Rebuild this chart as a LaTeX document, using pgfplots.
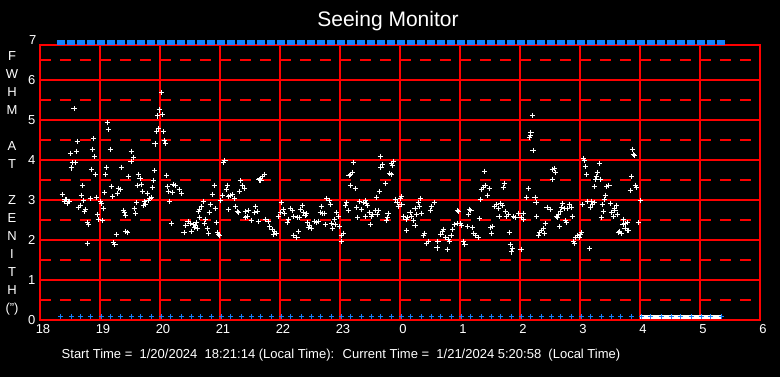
\documentclass[border=0pt]{standalone}
\usepackage{pgfplots}
\usepackage{pgfplotstable}
\usepackage{fontspec}
\setmainfont{Liberation Sans}
\pgfplotsset{compat=1.18}
\definecolor{gridred}{RGB}{255,0,0}
\definecolor{mblue}{RGB}{20,130,255}
\pgfdeclareplotmark{bluebar}{%
  \pgfpathrectanglecorners{\pgfpoint{-4pt}{-2.5pt}}{\pgfpoint{4pt}{2.5pt}}%
  \pgfusepathqfill}

\pgfplotstableread{
x top bot
18.35 6.94 0.083
18.52 6.94 0.083
18.68 6.94 0.083
18.85 6.94 0.083
19.02 6.94 0.083
19.18 6.94 0.083
19.35 6.94 0.083
19.52 6.94 0.083
19.68 6.94 0.083
19.85 6.94 0.083
20.02 6.94 0.083
20.18 6.94 0.083
20.35 6.94 0.083
20.52 6.94 0.083
20.68 6.94 0.083
20.85 6.94 0.083
21.02 6.94 0.083
21.18 6.94 0.083
21.35 6.94 0.083
21.52 6.94 0.083
21.68 6.94 0.083
21.85 6.94 0.083
22.02 6.94 0.083
22.18 6.94 0.083
22.35 6.94 0.083
22.52 6.94 0.083
22.68 6.94 0.083
22.85 6.94 0.083
23.02 6.94 0.083
23.18 6.94 0.083
23.35 6.94 0.083
23.52 6.94 0.083
23.68 6.94 0.083
23.85 6.94 0.083
24.02 6.94 0.083
24.18 6.94 0.083
24.35 6.94 0.083
24.52 6.94 0.083
24.68 6.94 0.083
24.85 6.94 0.083
25.02 6.94 0.083
25.18 6.94 0.083
25.35 6.94 0.083
25.52 6.94 0.083
25.68 6.94 0.083
25.85 6.94 0.083
26.02 6.94 0.083
26.18 6.94 0.083
26.35 6.94 0.083
26.52 6.94 0.083
26.68 6.94 0.083
26.85 6.94 0.083
27.02 6.94 0.083
27.18 6.94 0.083
27.35 6.94 0.083
27.52 6.94 0.083
27.68 6.94 0.083
27.85 6.94 0.083
28.02 6.94 0.083
28.18 6.94 0.083
28.35 6.94 0.083
28.52 6.94 0.083
28.68 6.94 0.083
28.85 6.94 0.083
29.02 6.94 0.083
29.18 6.94 0.083
29.35 6.94 0.083
}\sched

\pgfplotstableread{
x y
18.567 5.29
20.028 5.69
19.989 5.25
20.039 5.13
19.956 5.10
19.122 4.94
19.139 4.77
19.944 4.71
19.972 4.79
20.056 4.71
19.917 4.40
20.072 4.48
20.094 4.42
18.622 4.47
18.889 4.53
18.506 4.17
18.606 4.22
18.872 4.27
18.906 4.09
19.172 4.27
19.522 4.22
19.561 4.07
19.517 3.97
18.539 3.93
18.594 3.93
18.522 3.80
18.856 3.77
18.922 3.64
19.106 3.82
19.089 3.64
19.361 3.82
19.472 3.59
19.906 3.73
20.106 3.62
19.639 3.64
19.667 3.54
19.889 3.49
19.622 3.37
19.694 3.39
19.872 3.32
19.794 3.17
20.122 3.34
20.139 3.22
20.206 3.19
20.217 3.39
18.706 3.37
18.372 3.14
18.417 3.02
18.461 2.92
18.406 2.97
18.489 2.97
18.440 3.01
18.470 2.96
18.689 3.12
18.722 2.99
18.672 2.87
18.639 2.82
18.839 3.04
18.939 3.07
18.756 2.77
18.744 2.72
19.011 2.97
19.022 2.92
19.056 2.79
19.078 3.19
19.206 3.09
19.189 3.34
19.306 3.29
19.339 3.27
19.289 3.17
19.389 2.74
19.422 2.62
19.406 2.69
19.572 2.79
19.594 2.67
19.606 2.94
19.706 3.22
19.789 3.17
19.739 2.97
19.761 2.89
19.800 2.99
19.833 3.04
19.861 3.07
19.728 2.87
20.156 2.97
18.956 2.64
18.972 2.52
19.039 2.49
18.789 2.44
18.806 2.39
20.189 2.42
19.272 2.14
19.433 2.22
19.456 2.19
18.789 1.92
19.222 1.94
19.250 1.89
21.083 3.98
21.061 3.93
21.739 3.64
21.711 3.58
21.667 3.53
21.683 3.48
21.650 3.50
21.339 3.48
21.372 3.35
21.411 3.29
21.322 3.22
21.122 3.37
21.106 3.27
20.906 3.37
20.322 3.27
20.361 3.17
20.250 3.37
20.872 3.14
21.039 3.12
21.167 3.12
21.206 3.14
21.239 3.04
21.139 3.08
21.006 2.99
20.722 2.97
20.839 2.89
20.922 2.79
20.689 2.84
20.656 2.77
20.639 2.72
21.139 2.77
21.261 2.84
21.289 2.72
21.306 2.69
21.594 2.84
21.572 2.69
21.622 2.72
21.472 2.74
21.422 2.72
21.450 2.59
21.428 2.57
21.522 2.49
21.639 2.47
20.822 2.69
20.656 2.57
20.756 2.52
20.739 2.42
20.789 2.29
20.806 2.17
20.939 2.44
20.467 2.46
20.433 2.37
20.400 2.18
20.522 2.22
20.556 2.39
20.589 2.37
20.600 2.44
20.572 2.32
20.622 2.29
20.500 2.42
20.956 2.19
20.989 2.11
20.972 2.14
21.756 2.52
21.800 2.47
21.828 2.33
21.867 2.27
21.911 2.22
21.944 2.17
21.894 2.13
22.022 2.94
22.056 2.77
22.006 2.69
21.972 2.59
22.072 2.67
22.122 2.44
22.172 2.79
22.206 2.74
22.139 2.52
22.233 2.59
22.222 2.12
23.222 3.94
23.672 4.09
23.711 3.89
23.683 3.82
23.861 3.92
23.889 3.97
23.872 3.86
23.206 3.69
23.172 3.63
23.150 3.61
23.833 3.67
23.850 3.64
23.172 3.37
23.256 3.29
23.756 3.42
23.656 3.22
23.606 3.07
22.372 2.87
22.339 2.77
22.322 2.57
22.389 2.69
22.417 2.62
22.439 2.65
22.294 2.57
22.778 3.04
22.822 2.99
22.839 2.89
22.689 2.84
22.672 2.69
22.706 2.67
22.739 2.67
22.456 2.44
22.489 2.37
22.517 2.29
22.472 2.32
22.572 2.47
22.606 2.44
22.639 2.47
22.756 2.39
22.939 2.69
22.972 2.59
22.906 2.52
22.856 2.42
22.872 2.29
22.917 2.39
22.989 2.33
23.056 2.17
23.022 2.12
23.022 1.97
22.306 2.22
22.283 2.07
23.111 2.94
23.094 2.87
23.139 2.74
23.278 2.82
23.322 2.97
23.361 2.77
23.389 2.94
23.422 2.99
23.456 2.87
23.439 2.92
23.294 2.57
23.422 2.59
23.506 2.39
23.489 2.69
23.544 2.64
23.522 2.59
23.589 2.74
23.639 2.74
23.622 2.64
23.800 2.67
23.789 2.57
23.772 2.49
23.922 3.02
23.950 2.94
23.972 2.84
24.006 3.04
24.028 3.09
24.033 2.89
24.056 2.59
24.100 2.52
24.122 2.57
24.167 2.69
24.194 2.59
24.222 2.49
24.106 2.24
26.206 5.12
26.183 4.69
26.156 4.57
26.172 4.62
26.217 4.23
25.406 3.72
25.739 3.42
25.722 3.32
25.417 3.37
25.389 3.32
25.356 3.27
25.489 3.29
25.456 3.12
25.339 3.02
26.139 3.29
26.106 3.07
24.339 3.04
24.306 2.94
24.322 2.84
24.250 2.79
24.361 2.67
24.278 2.64
24.572 2.94
24.522 2.84
24.506 2.74
24.956 2.74
24.972 2.72
25.156 2.77
25.183 2.74
25.139 2.64
25.322 2.54
25.572 2.84
25.606 2.89
25.639 2.79
25.683 2.92
25.706 2.87
25.650 2.59
25.772 2.59
25.756 2.72
25.811 2.64
25.894 2.59
25.917 2.57
25.978 2.67
26.017 2.57
26.061 2.67
26.056 2.52
24.250 2.37
24.406 2.17
24.389 2.12
24.472 1.97
24.444 1.92
24.633 1.97
24.617 1.80
24.722 2.27
24.706 2.21
24.683 2.14
24.756 2.07
24.822 1.97
24.789 1.77
24.806 2.02
24.850 2.12
24.878 2.27
24.906 2.39
24.956 2.42
25.011 2.42
25.028 2.37
25.128 2.34
25.206 2.32
25.233 2.17
25.261 2.12
25.300 2.07
25.056 1.97
25.083 1.89
25.511 2.32
25.544 2.34
25.528 2.17
25.822 2.19
25.839 1.89
25.872 1.79
25.861 1.70
26.017 1.77
27.872 4.27
27.894 4.14
27.911 4.12
27.056 4.04
27.072 3.98
27.322 3.92
27.089 3.84
26.539 3.77
26.572 3.79
26.594 3.69
27.289 3.69
27.272 3.58
27.256 3.52
27.339 3.52
27.106 3.64
27.856 3.59
26.539 3.52
27.239 3.34
27.444 3.34
27.483 3.37
27.922 3.37
27.944 3.32
27.839 3.24
27.422 3.12
27.406 3.02
28.006 2.99
26.250 3.07
26.267 2.94
27.122 2.97
27.189 2.97
27.211 2.89
27.172 2.82
27.039 2.89
27.239 2.94
27.372 2.89
27.506 2.92
27.606 2.87
27.572 2.79
26.706 2.92
26.694 2.82
26.739 2.79
26.789 2.79
26.822 2.89
26.861 2.82
26.450 2.82
26.500 2.77
26.672 2.72
26.639 2.64
26.606 2.59
26.622 2.57
26.872 2.59
26.761 2.49
26.772 2.44
27.389 2.72
27.356 2.57
27.533 2.69
27.583 2.74
27.556 2.59
27.622 2.64
27.722 2.52
27.750 2.42
27.789 2.44
27.717 2.39
27.750 2.29
27.789 2.24
27.806 2.24
27.656 2.22
27.689 2.17
27.639 2.19
27.972 2.44
26.278 2.59
26.422 2.42
26.389 2.29
26.361 2.23
26.328 2.19
26.306 2.12
26.406 2.17
26.656 2.33
27.022 2.19
27.006 2.14
26.961 2.11
26.928 2.07
26.894 1.97
26.906 1.92
26.989 2.07
27.156 1.79
}\fwhm

\begin{document}
\begin{tikzpicture}
\path[fill=black, use as bounding box] (-40pt,-57pt) rectangle (740pt,320pt);
\begin{axis}[
  at={(0pt,0pt)}, anchor=south west,
  scale only axis, width=720pt, height=275pt,
  xmin=18, xmax=30, ymin=0, ymax=6.875,
  axis line style={gridred, line width=1.2pt},
  xtick={18,19,20,21,22,23,24,25,26,27,28,29,30},
  xticklabels={18,19,20,21,22,23,0,1,2,3,4,5,6},
  ytick={0,1,2,3,4,5,6},
  minor ytick={0.5,1.5,2.5,3.5,4.5,5.5,6.5},
  major tick length=0pt, minor tick length=0pt,
  grid=both,
  major grid style={gridred, line width=1.2pt},
  minor grid style={gridred, line width=1.2pt, dash pattern=on 11pt off 9pt},
  tick label style={white, font=\fontsize{13}{15}\selectfont},
  /pgf/number format/assume math mode=true,
  xticklabel style={yshift=-1pt, xshift=3pt},
  yticklabel style={xshift=-1pt},
  clip=false,
]
\addplot[only marks, mark=+, mark size=2.6pt, white, line width=1pt] table[x=x, y=y] {\fwhm};
\addplot[only marks, mark=bluebar, mblue] table[x=x, y=top] {\sched};
\addplot[white, line width=4pt] coordinates {(28.0,0.083) (29.37,0.083)};
\addplot[only marks, mark=+, mark size=2.5pt, mblue, line width=1pt] table[x=x, y=bot] {\sched};
\node[white, anchor=east, font=\fontsize{13}{15}\selectfont] at (axis cs:18,7) {7};
\end{axis}
\node[white, font=\fontsize{21}{24}\selectfont] at (348pt,299pt) {Seeing Monitor};
\node[white, align=center, font=\fontsize{13}{18}\selectfont] at (-28pt,137pt)
  {F\\W\\H\\M\\[18pt]A\\T\\[18pt]Z\\E\\N\\I\\T\\H\\(")};
\node[white, font=\fontsize{13}{15}\selectfont] at (301pt,-35pt)
  {Start Time = \ 1/20/2024 \ 18:21:14 (Local Time): \ Current Time = \ 1/21/2024 5:20:58 \ (Local Time)};
\end{tikzpicture}
\end{document}
